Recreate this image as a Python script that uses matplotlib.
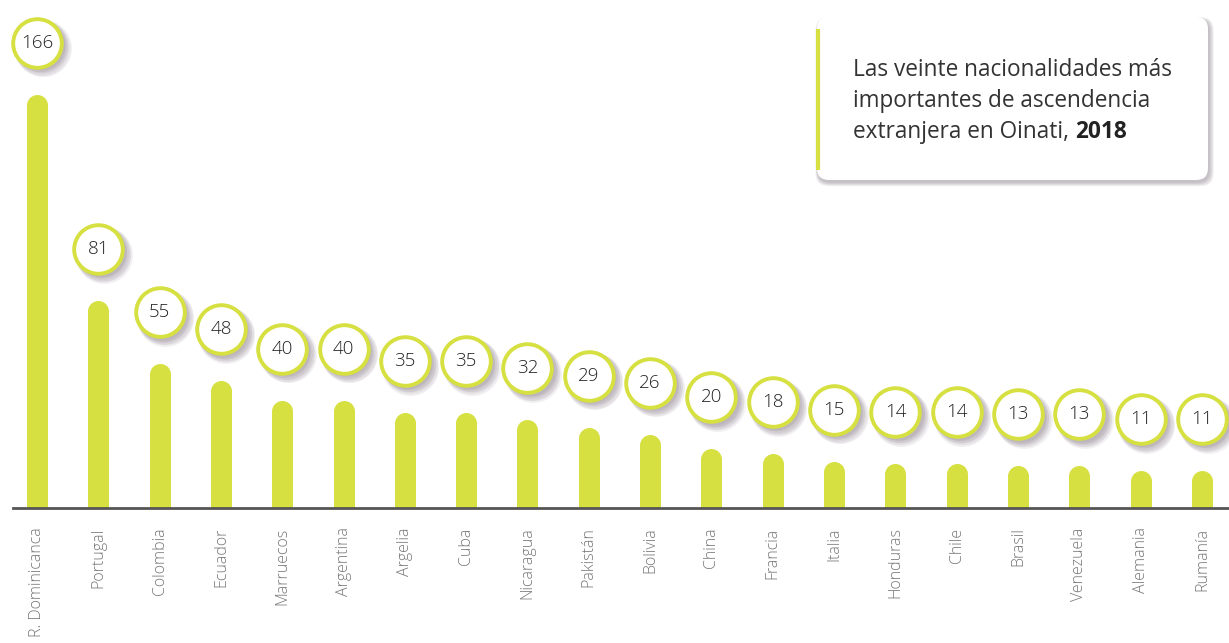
import matplotlib
matplotlib.use("Agg")
import matplotlib.pyplot as plt
from matplotlib.patches import FancyBboxPatch
from matplotlib.transforms import offset_copy

paises = ["R. Dominicanca", "Portugal", "Colombia", "Ecuador", "Marruecos", "Argentina",
          "Argelia", "Cuba", "Nicaragua", "Pakistán", "Bolivia", "China", "Francia",
          "Italia", "Honduras", "Chile", "Brasil", "Venezuela", "Alemania", "Rumanía"]
valores = [166, 81, 55, 48, 40, 40, 35, 35, 32, 29, 26, 20, 18, 15, 14, 14, 13, 13, 11, 11]
titulo = ["Las veinte nacionalidades más", "importantes de ascendencia", "extranjera en Oinati, "]
anio = "2018"

verde = "#d6e041"
W, H = 1229, 643
plt.rcParams['font.family'] = ['Open Sans', 'DejaVu Sans']

fig = plt.figure(figsize=(W / 100, H / 100), dpi=100)
ax = fig.add_axes([13 / W, 135 / H, 1 - 13 / W, 508 / H])
ax.patch.set_alpha(0)
ax.set_xlim(-0.39, 19.44)
ax.set_ylim(0, 209)

x = list(range(len(valores)))
# bars as thick lines with a round top
for xi, v in zip(x, valores):
    ax.plot([xi, xi], [0, v], color=verde, lw=15.1, solid_capstyle='butt', zorder=2,
            marker='o', markevery=[1], ms=15.1, mew=0, mfc=verde)

# value bubbles
ly = [max(v + 25.5, 33) for v in valores]
for k in range(1, 7):
    sh = offset_copy(ax.transData, fig=fig, x=2 + k * 0.6, y=-2 - k * 0.6, units='dots')
    ax.scatter(x, ly, s=(35 + k * 1.0) ** 2, color="#5a4a5a", alpha=0.08, lw=0,
               transform=sh, clip_on=False, zorder=3)
ax.scatter(x, ly, s=35 ** 2, facecolor="white", edgecolor=verde, lw=2.8, clip_on=False, zorder=4)
for xi, yi, v in zip(x, ly, valores):
    ax.text(xi, yi, str(v), ha='center', va='center', fontsize=13.5, color="#222222",
            fontweight='light', zorder=5)

for s in ['top', 'right', 'left']:
    ax.spines[s].set_visible(False)
ax.spines['bottom'].set_color("#555555")
ax.spines['bottom'].set_linewidth(2)
ax.set_yticks([])
ax.set_xticks(x)
ax.set_xticklabels(paises, rotation=90, fontsize=11.5, color="#777777", fontweight='light')
ax.tick_params(axis='x', length=0, pad=14)

# title box
ov = fig.add_axes([0, 0, 1, 1], zorder=5)
ov.set_xlim(0, W)
ov.set_ylim(H, 0)
ov.axis('off')
for k in range(1, 7):
    ov.add_patch(FancyBboxPatch((817 + 1 - k * 0.4, 17 + 2 - k * 0.3), 391 + k * 1.2, 163 + k * 1.0,
                                boxstyle="round,pad=0,rounding_size=13",
                                fc="#4a3a4a", ec='none', alpha=0.06))
ov.add_patch(FancyBboxPatch((817, 17), 391, 163, boxstyle="round,pad=0,rounding_size=12",
                            fc="white", ec='none'))
ov.plot([818, 818], [29, 170], color=verde, lw=3, solid_capstyle='butt')
for i, linea in enumerate(titulo):
    t = ov.text(853, 70 + 31 * i, linea, fontsize=16.3, color="#333333", va='center')
fig.canvas.draw()
bb = t.get_window_extent()
fig.text(bb.x1 / W, 1 - 132 / H, anio, fontsize=16.3, color="#222222", fontweight='bold',
         va='center', zorder=10)

fig.savefig("out.png", dpi=100)
